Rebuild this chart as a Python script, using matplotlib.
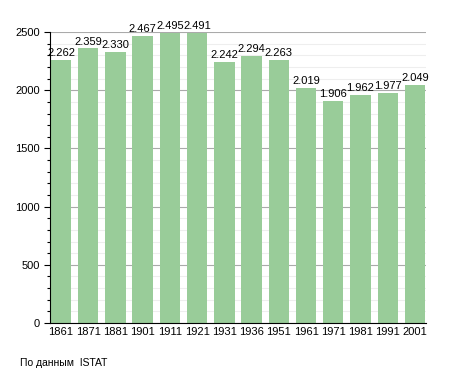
import matplotlib
matplotlib.use("Agg")
import matplotlib.pyplot as plt
from matplotlib.ticker import MultipleLocator

# census years and population
years = ["1861", "1871", "1881", "1901", "1911", "1921", "1931",
         "1936", "1951", "1961", "1971", "1981", "1991", "2001"]
population = [2262, 2359, 2330, 2467, 2495, 2491, 2242,
              2294, 2263, 2019, 1906, 1962, 1977, 2049]

plt.rcParams['font.family'] = ['Liberation Sans', 'DejaVu Sans']

fig = plt.figure(figsize=(4.55, 3.73), dpi=100)
ax = fig.add_axes([0.110, 0.134, 0.826, 0.780])

x = range(len(years))
ax.bar(x, population, width=0.75, color="#99cc99", zorder=2)

# value labels with dot as thousands separator
for i, v in zip(x, population):
    ax.text(i, v + 15, f"{v:,}".replace(",", "."), ha="center", va="bottom",
            fontsize=8, zorder=3)

ax.set_xlim(-0.4, len(years) - 0.6)
ax.set_ylim(0, 2500)
ax.set_xticks(list(x))
ax.set_xticklabels(years, fontsize=8)
ax.yaxis.set_major_locator(MultipleLocator(500))
ax.yaxis.set_minor_locator(MultipleLocator(100))
ax.tick_params(axis="y", labelsize=8, length=4, width=0.8)
ax.tick_params(axis="y", which="minor", length=2.5, width=0.8)
ax.tick_params(axis="x", length=0, pad=3)

ax.grid(axis="y", which="major", color="#aaaaaa", linewidth=0.8, zorder=0)
ax.grid(axis="y", which="minor", color="#eeeeee", linewidth=0.8, zorder=0)
ax.set_axisbelow(True)

ax.spines["top"].set_visible(False)
ax.spines["right"].set_visible(False)

fig.text(0.044, 0.02, "По данным  ISTAT", fontsize=7.5)

fig.savefig("out.png", dpi=100)
